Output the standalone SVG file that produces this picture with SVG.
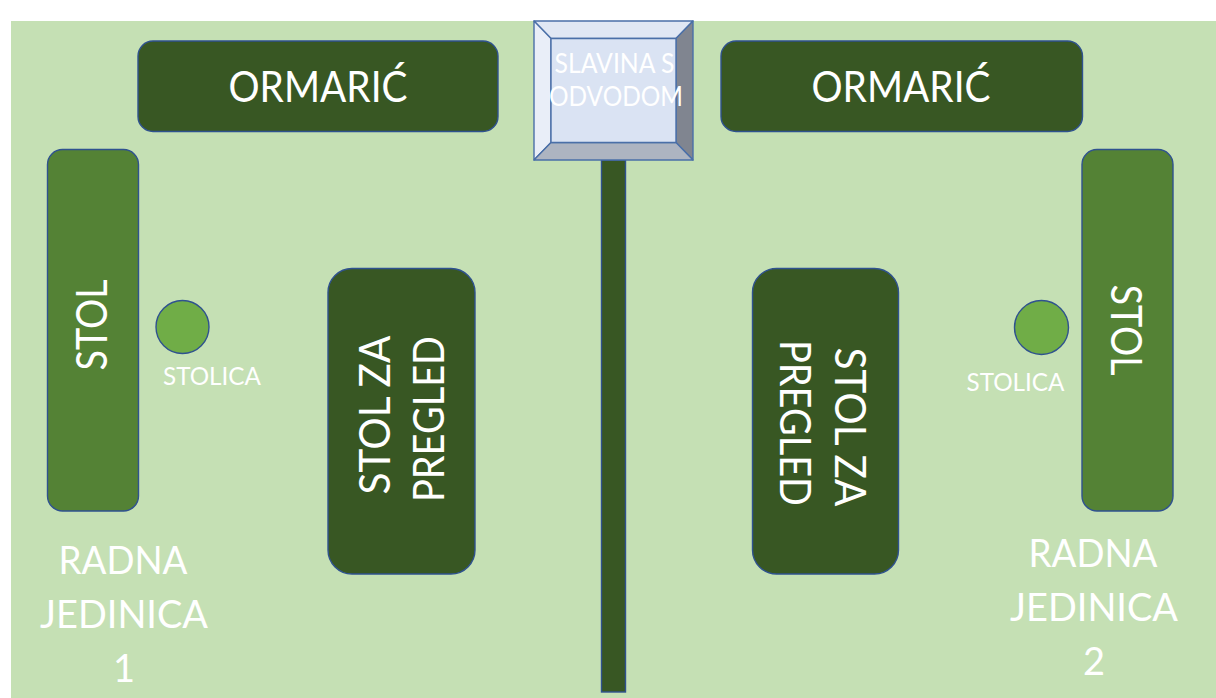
<svg xmlns="http://www.w3.org/2000/svg" width="1216" height="698" viewBox="0 0 1216 698">
<style>
text{font-family:"Lato","Carlito","Open Sans",sans-serif;fill:#fff;text-anchor:middle}
.s{stroke:#2f528f;stroke-width:1.4}
.d{fill:#385723}
.m{fill:#548235}
.b{stroke:#4a6fa8;stroke-width:1.4;stroke-linejoin:round}
.l{font-size:42px}
.t{font-size:38px}
.c{font-size:25px}
.f{font-size:26px}
</style>
<rect width="1216" height="698" fill="#fff"/>
<rect id="floor" x="11" y="21" width="1205" height="677" fill="#c5e0b4"/>
<g id="divider"><rect class="s d" x="601.500" y="160" width="24" height="532"/></g>
<g id="slavina">
<polygon class="b" points="534,21 693,21 676,38.500 551,38.500" fill="#e0e7f4"/>
<polygon class="b" points="534,21 551,38.500 551,142.500 534,160" fill="#e9eef8"/>
<polygon class="b" points="693,21 693,160 676,142.500 676,38.500" fill="#808590"/>
<polygon class="b" points="534,160 551,142.500 676,142.500 693,160" fill="#adb4c1"/>
<rect class="b" x="551" y="38.500" width="125" height="104" fill="#dae3f3"/>
<text class="f" x="614.500" y="73" textLength="120" lengthAdjust="spacingAndGlyphs">SLAVINA S</text>
<text class="f" x="616" y="106" textLength="134" lengthAdjust="spacingAndGlyphs">ODVODOM</text>
</g>
<g id="ormaric-1"><rect class="s d" x="138" y="41" width="360" height="90.500" rx="15"/><text class="l" x="318" y="101.500" textLength="179" lengthAdjust="spacingAndGlyphs">ORMARIĆ</text></g>
<g id="ormaric-2"><rect class="s d" x="721" y="41" width="361.500" height="90.500" rx="15"/><text class="l" x="901" y="101.500" textLength="179" lengthAdjust="spacingAndGlyphs">ORMARIĆ</text></g>
<g id="stol-1"><rect class="s m" x="47.500" y="149.500" width="91" height="361.500" rx="15"/><text class="l" transform="translate(106.500 325) rotate(-90)" textLength="91" lengthAdjust="spacingAndGlyphs">STOL</text></g>
<g id="stol-2"><rect class="s m" x="1082" y="149.500" width="91" height="361.500" rx="15"/><text class="l" transform="translate(1110.500 330) rotate(90)" textLength="91" lengthAdjust="spacingAndGlyphs">STOL</text></g>
<g id="stolica-1"><circle class="s" cx="182.500" cy="327" r="26.500" fill="#70ad47"/><text class="c" x="212" y="384.500" textLength="98" lengthAdjust="spacingAndGlyphs">STOLICA</text></g>
<g id="stolica-2"><circle class="s" cx="1041.500" cy="327.500" r="27" fill="#70ad47"/><text class="c" x="1015.500" y="390.500" textLength="98" lengthAdjust="spacingAndGlyphs">STOLICA</text></g>
<g id="pregled-1"><rect class="s d" x="328" y="268.500" width="147" height="305.500" rx="24"/>
<text class="l" transform="translate(389.500 415) rotate(-90)" textLength="159" lengthAdjust="spacingAndGlyphs">STOL ZA</text>
<text class="l" transform="translate(443.500 419) rotate(-90)" textLength="166" lengthAdjust="spacingAndGlyphs">PREGLED</text></g>
<g id="pregled-2"><rect class="s d" x="752.500" y="268.500" width="146" height="305.500" rx="24"/>
<text class="l" transform="translate(834.500 427) rotate(90)" textLength="159" lengthAdjust="spacingAndGlyphs">STOL ZA</text>
<text class="l" transform="translate(780 423) rotate(90)" textLength="166" lengthAdjust="spacingAndGlyphs">PREGLED</text></g>
<g id="radna-1"><text class="t" x="123" y="574" textLength="129" lengthAdjust="spacingAndGlyphs">RADNA</text><text class="t" x="124" y="628" textLength="168" lengthAdjust="spacingAndGlyphs">JEDINICA</text><text class="t" x="124" y="682">1</text></g>
<g id="radna-2"><text class="t" x="1093" y="566.500" textLength="129" lengthAdjust="spacingAndGlyphs">RADNA</text><text class="t" x="1094" y="620.500" textLength="168" lengthAdjust="spacingAndGlyphs">JEDINICA</text><text class="t" x="1094" y="675">2</text></g>
</svg>
